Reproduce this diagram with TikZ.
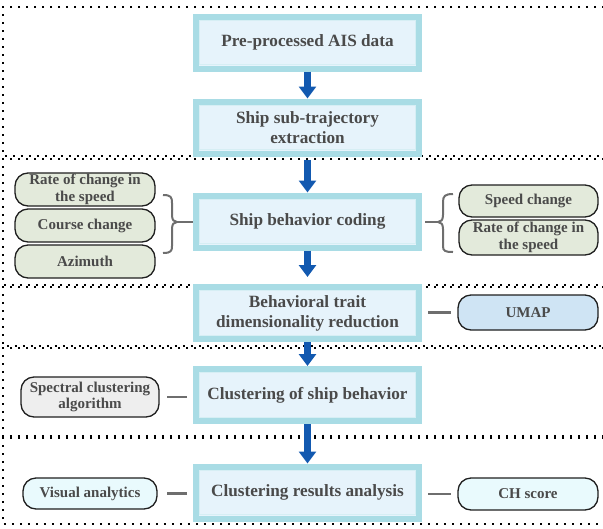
\documentclass[tikz,border=0pt]{standalone}
\usepackage{fontspec}
\setmainfont{Liberation Serif}
\usetikzlibrary{arrows.meta}

\definecolor{boxedge}{HTML}{A9DCE5}
\definecolor{boxfill}{HTML}{E6F3FB}
\definecolor{boxinner}{HTML}{D6EEF4}
\definecolor{labeltext}{HTML}{4A4A4A}
\definecolor{flowblue}{HTML}{1259B0}
\definecolor{linkgray}{HTML}{6E6E6E}
\definecolor{pillgreen}{HTML}{E3EADB}
\definecolor{pillblue}{HTML}{CFE4F4}
\definecolor{pillgray}{HTML}{EEEEEE}
\definecolor{pillcyan}{HTML}{E9FAFD}

\newcommand\mainlabelfont{\fontsize{17.2}{19.8}\selectfont\bfseries}
\newcommand\pilllabelfont{\fontsize{15}{16.8}\selectfont\bfseries}

\tikzset{
  stagebox/.style={draw=boxedge, line width=6pt, fill=boxfill,
    minimum width=223pt, minimum height=52pt, inner sep=0pt,
    align=center, text=labeltext, font=\mainlabelfont,
    path picture={\draw[boxinner, line width=1pt]
      ([shift={(3.6pt,-3.6pt)}]path picture bounding box.north west) rectangle
      ([shift={(-3.6pt,3.6pt)}]path picture bounding box.south east);}},
  pill/.style={draw=black!88, line width=1.3pt, rounded corners=13pt,
    inner sep=0pt, align=center, text=labeltext, font=\pilllabelfont},
  flow/.style={draw=flowblue, line width=7pt,
    -{Triangle[width=17pt,length=12pt]}},
  link/.style={draw=linkgray, line width=2.2pt},
  bracepath/.style={draw=linkgray, line width=2pt, line join=round},
  dotline/.style={draw=black, line width=1.6pt, dash pattern=on 1.6pt off 6.4pt}
}

\begin{document}
\begin{tikzpicture}[x=1pt,y=-1pt]
\useasboundingbox (0,0) rectangle (603,528);
\clip (0,0) rectangle (603,528);

% dotted section frames (open to the right)
\foreach \ya/\yb in {7/156, 159/285, 287/346, 348/436, 438/524}
  \draw[dotline] (620,\ya) -- (3,\ya) -- (3,\yb) -- (620,\yb);

% main processing stages
\node[stagebox] (b1) at (307.5,42.5) {Pre-processed AIS data};
\node[stagebox] (b2) at (307.5,127.5) {Ship sub-trajectory\\extraction};
\node[stagebox] (b3) at (307.5,221.5) {Ship behavior coding};
\node[stagebox] (b4) at (307.5,313) {Behavioral trait\\dimensionality reduction};
\node[stagebox] (b5) at (307.5,395) {Clustering of ship behavior};
\node[stagebox] (b6) at (307.5,492.5) {Clustering results analysis};

% flow arrows
\draw[flow] (b1) -- (b2);
\draw[flow, shorten <=3pt] (b2) -- (b3);
\draw[flow, shorten >=7pt] (b3) -- (b4);
\draw[flow] (b4) -- (b5);
\draw[flow] (b5) -- (b6);

% behaviour features, left group
\node[pill, fill=pillgreen, minimum width=140pt, minimum height=33pt] (l1) at (85,189.5) {Rate of change in\\the speed};
\node[pill, fill=pillgreen, minimum width=140pt, minimum height=33pt] (l2) at (85,225.5) {Course change};
\node[pill, fill=pillgreen, minimum width=140pt, minimum height=33pt] (l3) at (85,261.5) {Azimuth};

% behaviour features, right group
\node[pill, fill=pillgreen, minimum width=139pt, minimum height=32pt] (r1) at (528.5,201) {Speed change};
\node[pill, fill=pillgreen, minimum width=139pt, minimum height=35pt] (r2) at (528.5,237.5) {Rate of change in\\the speed};

% method and evaluation nodes
\node[pill, fill=pillblue, minimum width=140pt, minimum height=35pt] (umap) at (528,312.5) {UMAP};
\node[pill, fill=pillgray, minimum width=138pt, minimum height=40pt] (spec) at (90,397) {Spectral clustering\\algorithm};
\node[pill, fill=pillcyan, minimum width=134pt, minimum height=31pt] (vis) at (90,493.5) {Visual analytics};
\node[pill, fill=pillcyan, minimum width=140pt, minimum height=32pt] (ch) at (528,494) {CH score};

% braces grouping the features
\coordinate (lbtip) at (177,222);
\coordinate (rbtip) at (438,222);
\draw[bracepath] (163,195) .. controls (171,195) and (172,197) .. (172,203)
  -- (172,215) .. controls (172,220) and (174,222) .. (lbtip)
  .. controls (174,222) and (172,224) .. (172,229)
  -- (172,246) .. controls (172,251) and (171,253) .. (163,253);
\draw[bracepath] (453,194) .. controls (445,194) and (443,196) .. (443,202)
  -- (443,215) .. controls (443,220) and (441,222) .. (rbtip)
  .. controls (441,222) and (443,224) .. (443,229)
  -- (443,246) .. controls (443,251) and (445,252) .. (453,252);

% connectors
\draw[link] (lbtip) -- (lbtip -| b3.west);
\draw[link, shorten >=3pt] (rbtip) -- (rbtip -| b3.east);
\draw[link, shorten <=6pt, shorten >=6pt] (b4.east |- umap) -- (umap.west);
\draw[link, shorten <=6pt, shorten >=7pt] (b5.west |- spec) -- (spec.east);
\draw[link, shorten <=6pt, shorten >=9pt] (b6.west |- vis) -- (vis.east);
\draw[link, shorten <=6pt, shorten >=6pt] (b6.east |- ch) -- (ch.west);
\end{tikzpicture}
\end{document}
